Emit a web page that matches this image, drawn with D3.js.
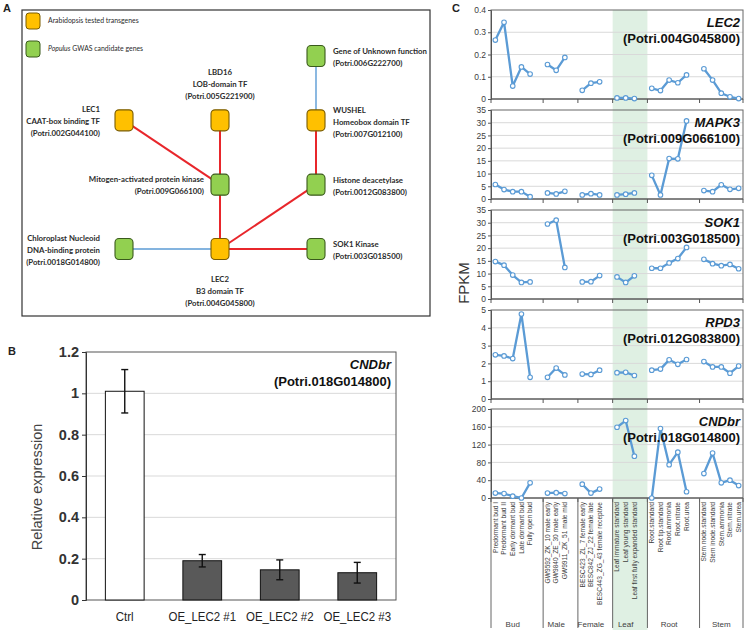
<!DOCTYPE html>
<html><head><meta charset="utf-8">
<script src="https://cdn.jsdelivr.net/npm/d3@7"></script>
<style>body{margin:0;background:#fff} svg{display:block}</style>
</head><body>
<svg id="c" width="746" height="633"></svg>
<script>
// ================= Panel A: network =================
const nodeIds    = ["unknown","lec1","lbd16","wus","mapk","hda","cnd","lec2","sok1"];
const nodeGroups = ["green","orange","orange","orange","green","green","green","orange","green"];
const nodeCols   = [2,0,1,2,1,2,0,1,2];
const nodeRows   = [0,1,1,1,2,2,3,3,3];
const nodeLabels = [
  ["Gene of Unknown function","(Potri.006G222700)"],
  ["LEC1","CAAT-box binding TF","(Potri.002G044100)"],
  ["LBD16","LOB-domain TF","(Potri.005G221900)"],
  ["WUSHEL","Homeobox domain TF","(Potri.007G012100)"],
  ["Mitogen-activated protein kinase","(Potri.009G066100)"],
  ["Histone deacetylase","(Potri.0012G083800)"],
  ["Chloroplast Nucleoid","DNA-binding protein","(Potri.0018G014800)"],
  ["LEC2","B3 domain TF","(Potri.004G045800)"],
  ["SOK1 Kinase","(Potri.003G018500)"]
];
const labelSides = ["right","left","top","right","left","right","left","bottom","right"];
const edgeSource = ["unknown","wus","lec1","lbd16","mapk","hda","cnd","sok1"];
const edgeTarget = ["wus","hda","mapk","mapk","lec2","lec2","lec2","lec2"];
const edgeType   = ["blue","red","red","red","red","red","blue","red"];
const legendGroups = ["orange","green"];
const legendTexts  = [["Arabidopsis tested transgenes"],["Populus"," GWAS candidate genes"]];

// ================= Panel B: bar chart =================
const bCats  = ["Ctrl","OE_LEC2 #1","OE_LEC2 #2","OE_LEC2 #3"];
const bVals  = [1.01, 0.19, 0.146, 0.132];
const bErrs  = [0.105, 0.03, 0.048, 0.05];
const bTicks = [0,0.2,0.4,0.6,0.8,1,1.2];

// ================= Panel C: expression profiles =================
const cGroups = ["Bud","Male","Female","Leaf","Root","Stem"];
const cTissues = [
  ["Predormant bud I","Predormant bud II","Early dormant bud","Late dormant bud","Fully open bud"],
  ["GW9592_ZK_10 male early","GW9840_ZE_30 male early","GW9911_ZK_51 male mid"],
  ["BESC423_ZL_7 female early","BESC842_ZJ_22 female late","BESC443_ZG_43 female receptive"],
  ["Leaf immature standard","Leaf young standard","Leaf first fully expanded standard"],
  ["Root.standard","Root tip.standard","Root.ammonia","Root.nitrate","Root.urea"],
  ["Stem node.standard","Stem inode.standard","Stem.ammonia","Stem.nitrate","Stem.urea"]
];
const geneNames = ["LEC2","MAPK3","SOK1","RPD3","CNDbr"];
const geneIds   = ["(Potri.004G045800)","(Potri.009G066100)","(Potri.003G018500)","(Potri.012G083800)","(Potri.018G014800)"];
const geneMax   = [0.4, 35, 35, 5, 200];
const geneStep  = [0.1, 5, 5, 1, 40];
const lec2 = [[0.265,0.345,0.058,0.144,0.112],[0.155,0.129,0.187],[0.039,0.071,0.077],[0.005,0.005,0.002],[0.048,0.038,0.085,0.073,0.108],[0.136,0.085,0.026,0.01,0.002]];
const mapk3 = [[5.7,3.7,2.9,2.9,0.9],[2.4,2.0,3.0],[1.6,2.1,1.6],[1.6,1.9,2.4],[9.3,1.6,15.9,15.8,30.7],[3.3,2.9,5.6,3.8,4.2]];
const sok1 = [[14.7,13.3,9.4,6.5,6.7],[29.5,31.0,12.4],[6.7,6.8,9.2],[8.7,6.5,9.1],[12.1,12.1,14.2,15.9,20.3],[15.6,13.9,13.1,13.6,11.9]];
const rpd3 = [[2.48,2.42,2.27,4.77,1.22],[1.22,1.74,1.35],[1.4,1.38,1.62],[1.48,1.5,1.32],[1.62,1.68,2.2,1.95,2.22],[2.1,1.8,1.8,1.45,1.85]];
const cndbr = [[11,10,4,0,34],[11,12,10],[31,11,20],[159,174,94],[0,156,75,103,14],[55,101,34,40,28]];
const geneData = [lec2, mapk3, sok1, rpd3, cndbr];
const highlightGroup = "Leaf";

// ================= drawing =================
const svg = d3.select("#c");
const FONT = "'Liberation Sans', Arial, sans-serif";
const AFONT = "Lato, 'Open Sans', sans-serif";
const txtCol = "#404040";

// panel letters
[["A",3,12],["B",8,355],["C",452,12]].forEach(([t,x,y]) =>
  svg.append("text").attr("x",x).attr("y",y).text(t)
    .attr("font-family",FONT).attr("font-weight","bold").attr("font-size",11).attr("fill","#222"));

// ----- Panel A -----
{
  const g = svg.append("g");
  g.append("rect").attr("x",22).attr("y",10).attr("width",408).attr("height",306)
    .attr("fill","#fff").attr("stroke","#333").attr("stroke-width",1.2);
  const xs = d3.scaleLinear().domain([0,2]).range([124,316]);
  const ys = d3.scaleLinear().domain([0,3]).range([56,249]);
  const fillC = {orange:"#FFC000", green:"#92D050"};
  const strokeC = {orange:"#7a5c00", green:"#3a5a1c"};
  const edgeC = {red:"#E8262B", blue:"#5B9BD5"};
  const nodes = nodeIds.map((id,i)=>({id, g:nodeGroups[i], x:xs(nodeCols[i]), y:ys(nodeRows[i]), lab:nodeLabels[i], side:labelSides[i]}));
  const byId = Object.fromEntries(nodes.map(n=>[n.id,n]));
  edgeSource.forEach((s,i)=>{
    const a=byId[s], b=byId[edgeTarget[i]];
    g.append("line").attr("x1",a.x).attr("y1",a.y).attr("x2",b.x).attr("y2",b.y)
      .attr("stroke",edgeC[edgeType[i]]).attr("stroke-width",edgeType[i]==="red"?2:1.4);
  });
  const NW=18, NH=21;
  g.selectAll("rect.node").data(nodes).join("rect").attr("class","node")
    .attr("x",d=>d.x-NW/2).attr("y",d=>d.y-NH/2).attr("width",NW).attr("height",NH)
    .attr("rx",4).attr("fill",d=>fillC[d.g]).attr("stroke",d=>strokeC[d.g]).attr("stroke-width",1.1);
  const LH = 12;
  nodes.forEach(n=>{
    const L = n.lab.length;
    let x, anchor, y0;
    if (n.side==="right"){ x=n.x+17; anchor="start"; y0=n.y+1.5-(L-1)*LH/2; }
    else if (n.side==="left"){ x = n.x - (n.id==="mapk"?16:24); anchor="end"; y0=n.y+1-(L-1)*LH/2; }
    else if (n.side==="top"){ x=n.x; anchor="middle"; y0=n.y-24-(L-1)*LH; }
    else { x=n.x; anchor="middle"; y0=n.y+30; }
    n.lab.forEach((t,k)=>{
      g.append("text").attr("x",x).attr("y",y0+k*LH).attr("dy","0.35em")
        .attr("text-anchor",anchor).attr("font-family",AFONT).attr("font-weight","bold")
        .attr("font-size",7.8).attr("fill","#2b2b2b").text(t);
    });
  });
  // legend
  legendGroups.forEach((grp,i)=>{
    const y = 21 + i*28;
    g.append("rect").attr("x",26).attr("y",y-8).attr("width",14).attr("height",16).attr("rx",3)
      .attr("fill",fillC[grp]).attr("stroke",strokeC[grp]).attr("stroke-width",1);
    const t = g.append("text").attr("x",48).attr("y",y).attr("dy","0.35em")
      .attr("font-family",AFONT).attr("font-size",6.9).attr("fill","#2b2b2b");
    legendTexts[i].forEach((s,k)=>{
      t.append("tspan").text(s).attr("font-style", (i===1&&k===0)?"italic":"normal");
    });
  });
}

// ----- Panel B -----
{
  const g = svg.append("g");
  const x = d3.scaleBand().domain(bCats).range([86,396]).paddingInner(0.5).paddingOuter(0.25);
  const y = d3.scaleLinear().domain([0,1.2]).range([600,352]);
  g.selectAll("line.grid").data(bTicks.slice(1,-1)).join("line").attr("class","grid")
    .attr("x1",86).attr("x2",396).attr("y1",d=>y(d)).attr("y2",d=>y(d))
    .attr("stroke","#d9d9d9").attr("stroke-width",1);
  g.append("rect").attr("x",86).attr("y",352).attr("width",310).attr("height",248)
    .attr("fill","none").attr("stroke","#555").attr("stroke-width",1);
  const ax = d3.axisLeft(y).tickValues(bTicks).tickSize(4).tickFormat(d3.format("~g"));
  const ag = g.append("g").attr("transform","translate(86,0)").call(ax);
  ag.select(".domain").attr("stroke","#333");
  ag.selectAll(".tick line").attr("stroke","#333");
  ag.selectAll("text").attr("font-family",FONT).attr("font-weight","bold").attr("font-size",14.5).attr("fill","#333").attr("x",-7);
  g.selectAll("rect.bar").data(bCats).join("rect").attr("class","bar")
    .attr("x",d=>x(d)).attr("width",x.bandwidth())
    .attr("y",(d,i)=>y(bVals[i])).attr("height",(d,i)=>y(0)-y(bVals[i]))
    .attr("fill",(d,i)=>i===0?"#fff":"#595959").attr("stroke","#111").attr("stroke-width",1);
  bCats.forEach((c,i)=>{
    const cx = x(c)+x.bandwidth()/2;
    const lo=y(bVals[i]-bErrs[i]), hi=y(bVals[i]+bErrs[i]);
    g.append("line").attr("x1",cx).attr("x2",cx).attr("y1",lo).attr("y2",hi).attr("stroke","#111").attr("stroke-width",1.4);
    [lo,hi].forEach(yy=>g.append("line").attr("x1",cx-3.5).attr("x2",cx+3.5).attr("y1",yy).attr("y2",yy).attr("stroke","#111").attr("stroke-width",1.4));
    g.append("text").attr("transform",`translate(${cx},621) scale(0.85,1)`).attr("text-anchor","middle")
      .attr("font-family",FONT).attr("font-size",13.5).attr("fill","#222").text(c);
  });
  g.append("text").attr("transform","translate(42,487) rotate(-90)").attr("text-anchor","middle")
    .attr("font-family",FONT).attr("font-size",14.5).attr("fill","#444").text("Relative expression");
  g.append("text").attr("x",391).attr("y",369).attr("text-anchor","end")
    .attr("font-family",FONT).attr("font-weight","bold").attr("font-style","italic").attr("font-size",13).attr("fill","#111").text("CNDbr");
  g.append("text").attr("x",391).attr("y",386).attr("text-anchor","end")
    .attr("font-family",FONT).attr("font-weight","bold").attr("font-size",13).attr("fill","#111").text("(Potri.018G014800)");
}

// ----- Panel C -----
{
  const g = svg.append("g");
  const L=491, R=743, TOP=10, BOTTOM=630, PH=89, GAP=100;
  const slots = [];
  cTissues.forEach((ts,gi)=>{
    ts.forEach((t,ti)=>slots.push({key:gi+"-"+ti, g:gi, t}));
    if (gi < cGroups.length-1) slots.push({key:"blank"+gi, g:gi, t:null});
  });
  const x = d3.scaleBand().domain(slots.map(s=>s.key)).range([L,R]).padding(0);
  const cx = k => x(k)+x.bandwidth()/2;
  const groupStart = cGroups.map((gname,gi)=> x(gi+"-0"));
  const groupEnd = cGroups.map((gname,gi)=> gi<cGroups.length-1 ? x("blank"+gi)+x.bandwidth() : R);
  const hi = cGroups.indexOf(highlightGroup);
  g.append("rect").attr("x",groupStart[hi]).attr("y",TOP).attr("width",groupEnd[hi]-groupStart[hi])
    .attr("height",BOTTOM-TOP).attr("fill","#dff0e3");

  geneNames.forEach((gn,i)=>{
    const top = TOP + i*GAP - (i===4?1:0), bot = top+PH;
    const y = d3.scaleLinear().domain([0,geneMax[i]]).range([bot,top]);
    const ticks = d3.range(0, geneMax[i]+geneStep[i]/2, geneStep[i]);
    const pg = g.append("g");
    pg.selectAll("line.grid").data(ticks.slice(1,-1)).join("line")
      .attr("x1",L).attr("x2",R).attr("y1",d=>y(d)).attr("y2",d=>y(d))
      .attr("stroke","#d9d9d9").attr("stroke-width",1);
    pg.append("rect").attr("x",L).attr("y",top).attr("width",R-L).attr("height",PH)
      .attr("fill","none").attr("stroke","#666").attr("stroke-width",1);
    const ax = d3.axisLeft(y).tickValues(ticks).tickSize(3).tickFormat(d3.format("~g"));
    const ag = pg.append("g").attr("transform",`translate(${L},0)`).call(ax);
    ag.select(".domain").attr("stroke","#555");
    ag.selectAll(".tick line").attr("stroke","#555");
    ag.selectAll("text").attr("font-family",FONT).attr("font-size",8.5).attr("fill",txtCol).attr("x",-5);
    pg.selectAll("line.xt").data([L, ...groupEnd]).join("line")
      .attr("x1",d=>d).attr("x2",d=>d).attr("y1",bot).attr("y2",bot+4)
      .attr("stroke","#555").attr("stroke-width",1);
    pg.append("line").attr("x1",L).attr("x2",R).attr("y1",bot).attr("y2",bot).attr("stroke","#555");
    const line = d3.line().x(d=>d[0]).y(d=>y(d[1]));
    geneData[i].forEach((vals,gi)=>{
      const pts = vals.map((v,ti)=>[cx(gi+"-"+ti), v]);
      pg.append("path").attr("d",line(pts)).attr("fill","none").attr("stroke","#5B9BD5").attr("stroke-width",2.3).attr("stroke-linejoin","round");
      pg.selectAll(null).data(pts).join("circle").attr("cx",d=>d[0]).attr("cy",d=>y(d[1])).attr("r",2.3)
        .attr("fill","#fff").attr("stroke","#5B9BD5").attr("stroke-width",1.1);
    });
    pg.append("text").attr("x",740).attr("y",top+17).attr("text-anchor","end")
      .attr("font-family",FONT).attr("font-weight","bold").attr("font-style","italic").attr("font-size",13).attr("fill","#111").text(gn);
    pg.append("text").attr("x",740).attr("y",top+33).attr("text-anchor","end")
      .attr("font-family",FONT).attr("font-weight","bold").attr("font-size",13).attr("fill","#111").text(geneIds[i]);
  });
  const labTop = TOP + 4*GAP - 1 + PH;
  g.selectAll("line.div").data([L, ...groupEnd]).join("line")
    .attr("x1",d=>d).attr("x2",d=>d).attr("y1",labTop).attr("y2",BOTTOM-2)
    .attr("stroke","#666").attr("stroke-width",1);
  slots.filter(s=>s.t).forEach(s=>{
    g.append("text").attr("transform",`translate(${cx(s.key)},${labTop+4}) rotate(-90)`)
      .attr("text-anchor","end").attr("dy","0.35em").attr("font-family",FONT).attr("font-size",6.6)
      .attr("fill",txtCol).text(s.t);
  });
  cGroups.forEach((gname,gi)=>{
    g.append("text").attr("x",(groupStart[gi]+groupEnd[gi])/2 - (gi<cGroups.length-1?x.bandwidth()/2:0)).attr("y",627)
      .attr("text-anchor","middle").attr("font-family",FONT).attr("font-size",8).attr("fill",txtCol).text(gname);
  });
  g.append("text").attr("transform","translate(469,283) rotate(-90)").attr("text-anchor","middle")
    .attr("font-family",FONT).attr("font-size",15).attr("fill","#333").text("FPKM");
}
</script>
</body></html>
